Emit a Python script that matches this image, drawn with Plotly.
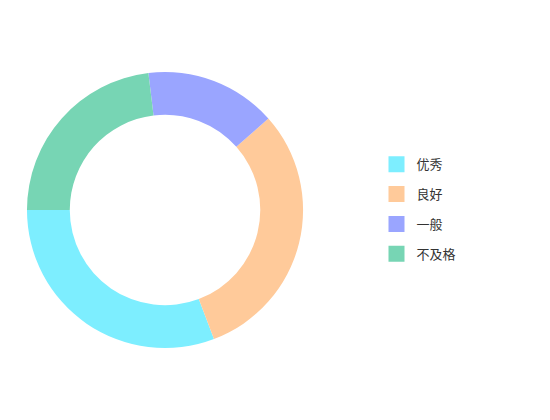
"""Donut chart of grade distribution (优秀 / 良好 / 一般 / 不及格)"""

import plotly.graph_objects as go

# data
categories = ["优秀", "良好", "一般", "不及格"]
values = [40, 40, 20, 30]
colors = ["#7deeff", "#ffca9a", "#9aa5ff", "#77d5b4"]

# first slice should start at 9 o'clock and run counterclockwise;
# plotly puts the first slice *behind* the rotation angle in that case
first_span = 360 * values[0] / sum(values)

fig = go.Figure()

# the donut itself, legend is drawn by dummy traces below
fig.add_trace(
    go.Pie(
        labels=categories,
        values=values,
        hole=0.69,
        sort=False,
        direction="counterclockwise",
        rotation=270 - first_span,
        textinfo="none",
        marker={"colors": colors, "line": {"width": 0}},
        domain={"x": [0.0345, 0.5365], "y": [0.19, 0.848]},
        showlegend=False,
    )
)

# one legend entry per category so the gap between items can be set
for name, color in zip(categories, colors):
    fig.add_trace(
        go.Scatter(
            x=[None],
            y=[None],
            mode="markers",
            name=name,
            legendgroup=name,
            marker={"symbol": "square", "size": 16, "color": color},
        )
    )

fig.update_layout(
    width=550,
    height=420,
    margin={"l": 0, "r": 0, "t": 0, "b": 0},
    paper_bgcolor="white",
    plot_bgcolor="white",
    xaxis={"visible": False},
    yaxis={"visible": False},
    font={"family": "Noto Sans CJK SC", "size": 13, "color": "#333333"},
    legend={
        "x": 0.67,
        "y": 0.521,
        "xanchor": "left",
        "yanchor": "middle",
        "tracegroupgap": 10,
        "itemclick": False,
    },
)

fig.write_html("out.html")
